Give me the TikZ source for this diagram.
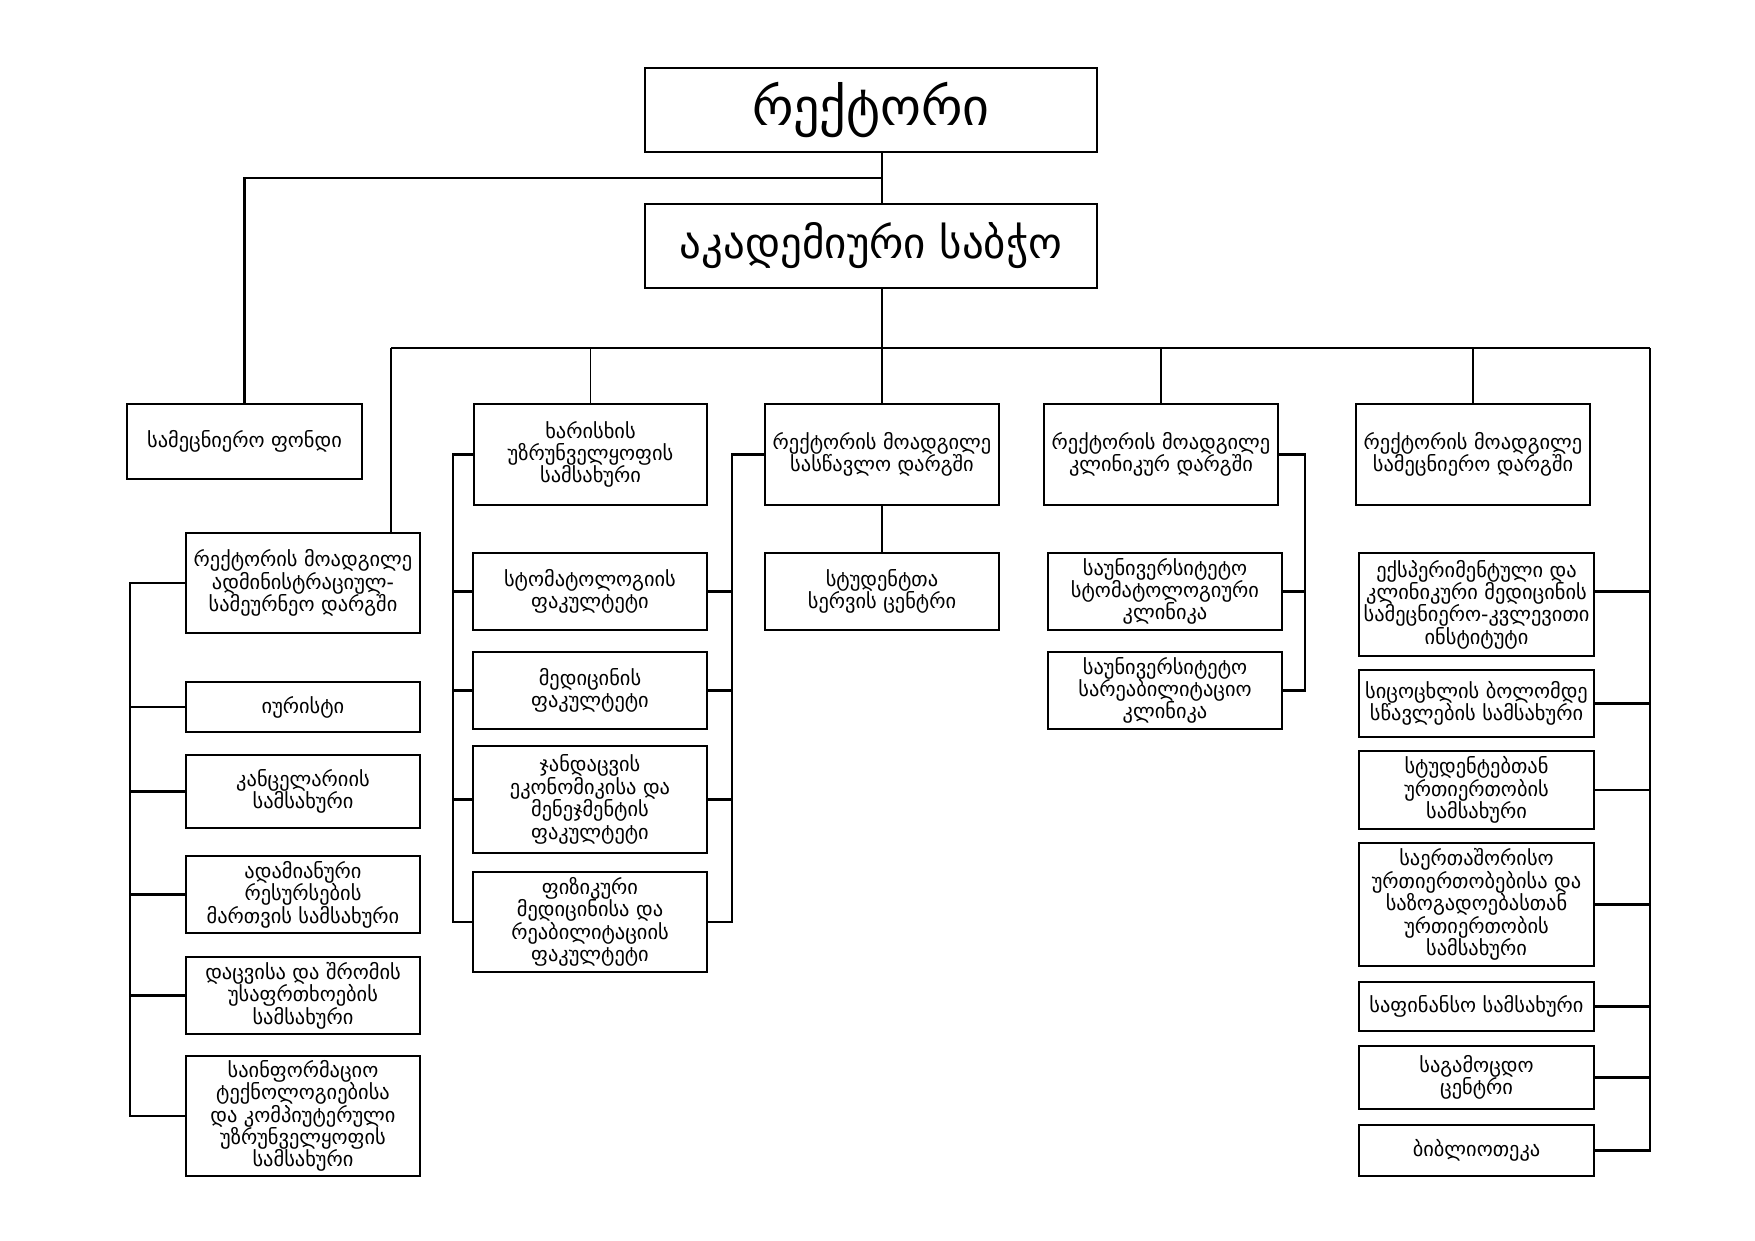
\documentclass[tikz,border=0pt]{standalone}
\usepackage{fontspec}
\setmainfont{DejaVu Sans}
\usetikzlibrary{calc}
\tikzset{
  box/.style={draw=black, line width=1.3pt, fill=white, inner sep=0pt, outer sep=0pt,
    align=center, font=\fontsize{10.2}{11.2}\selectfont},
  bigbox/.style={box, font=\fontsize{26}{30}\selectfont},
  midbox/.style={box, font=\fontsize{21.5}{26}\selectfont},
  thin/.style={draw=black, line width=0.8pt},
  conn/.style={draw=black, line width=1.1pt},
}
\newcommand\ob[7][box]{\node[#1, minimum width={(#5-#3)*0.5pt}, minimum height={(#6-#4)*0.5pt}] (#2) at ({(#3+#5)/2},{(#4+#6)/2}) {#7};}
\begin{document}
\begin{tikzpicture}[x=0.5pt,y=-0.5pt]
\useasboundingbox[fill=white] (0,0) rectangle (1755,1241);
% top
\ob[bigbox]{rector}{645}{68}{1097}{152}{რექტორი}
\ob[midbox]{council}{645}{204}{1097}{288}{აკადემიური საბჭო}
\ob{fond}{127}{404}{362}{479}{სამეცნიერო ფონდი}
% second row
\ob{quality}{474}{404}{707}{505}{ხარისხის\\უზრუნველყოფის\\სამსახური}
\ob{teach}{765}{404}{999}{505}{რექტორის მოადგილე\\სასწავლო დარგში}
\ob{clin}{1044}{404}{1278}{505}{რექტორის მოადგილე\\კლინიკურ დარგში}
\ob{sci}{1356}{404}{1590}{505}{რექტორის მოადგილე\\სამეცნიერო დარგში}
% admin column
\ob{admin}{186}{533}{420}{633}{რექტორის მოადგილე\\ადმინისტრაციულ-\\სამეურნეო დარგში}
\ob{jur}{186}{682}{420}{732}{იურისტი}
\ob{chanc}{186}{755}{420}{828}{კანცელარიის\\სამსახური}
\ob{hr}{186}{856}{420}{933}{ადამიანური\\რესურსების\\მართვის სამსახური}
\ob{safety}{186}{957}{420}{1034}{დაცვისა და შრომის\\უსაფრთხოების\\სამსახური}
\ob{it}{186}{1056}{420}{1176}{საინფორმაციო\\ტექნოლოგიებისა\\და კომპიუტერული\\უზრუნველყოფის\\სამსახური}
% faculties
\ob{stom}{473}{553}{707}{630}{სტომატოლოგიის\\ფაკულტეტი}
\ob{med}{473}{652}{707}{729}{მედიცინის\\ფაკულტეტი}
\ob{health}{473}{746}{707}{853}{ჯანდაცვის\\ეკონომიკისა და\\მენეჯმენტის\\ფაკულტეტი}
\ob{phys}{473}{872}{707}{972}{ფიზიკური\\მედიცინისა და\\რეაბილიტაციის\\ფაკულტეტი}
% teaching
\ob{ssc}{765}{553}{999}{630}{სტუდენტთა\\სერვის ცენტრი}
% clinics
\ob{uclinA}{1048}{553}{1282}{630}{საუნივერსიტეტო\\სტომატოლოგიური\\კლინიკა}
\ob{uclinB}{1048}{652}{1282}{729}{საუნივერსიტეტო\\სარეაბილიტაციო\\კლინიკა}
% right column
\ob{ext}{1359}{553}{1594}{656}{ექსპერიმენტული და\\კლინიკური მედიცინის\\სამეცნიერო-კვლევითი\\ინსტიტუტი}
\ob{life}{1359}{670}{1594}{737}{სიცოცხლის ბოლომდე\\სწავლების სამსახური}
\ob{stud}{1359}{751}{1594}{829}{სტუდენტებთან\\ურთიერთობის\\სამსახური}
\ob{intl}{1359}{843}{1594}{966}{საერთაშორისო\\ურთიერთობებისა და\\საზოგადოებასთან\\ურთიერთობის\\სამსახური}
\ob{fin}{1359}{982}{1594}{1031}{საფინანსო სამსახური}
\ob{exam}{1359}{1046}{1594}{1109}{საგამოცდო\\ცენტრი}
\ob{lib}{1359}{1125}{1594}{1176}{ბიბლიოთეკა}

% spine
\coordinate (sp) at (teach.north);
\coordinate (jn) at (sp |- 0,178);
\draw[thin] (rector.south -| sp) -- (council.north -| sp);
\draw[conn] (jn) -| (fond.north);
\coordinate (busL) at (391,348);
\coordinate (busR) at (1650,348);
\draw[thin] (council.south -| sp) -- (teach.north);
\draw[conn] (busL) -- (busR);
\draw[conn] (busL) -- (busL |- admin.north);
\draw[thin] (quality.north) -- (quality.north |- busL);
\draw[thin] (clin.north) -- (clin.north |- busL);
\draw[thin] (sci.north) -- (sci.north |- busL);
% admin bus
\coordinate (lb) at (130,0);
\draw[conn] (admin.west) -| (lb |- it.west) -- (it.west);
\foreach \n in {jur,chanc,hr,safety} \draw[conn] (\n.west) -- (\n.west -| lb);
% faculties buses
\coordinate (fl) at (453,0);
\coordinate (fr) at (732,0);
\draw[conn] (quality.west) -| (fl |- phys.west) -- (phys.west);
\foreach \n in {stom,med,health} \draw[conn] (\n.west) -- (\n.west -| fl);
\draw[conn] (teach.west) -| (fr |- phys.east) -- (phys.east);
\foreach \n in {stom,med,health} \draw[conn] (\n.east) -- (\n.east -| fr);
% teaching
\draw[thin] (teach.south) -- (ssc.north);
% clinics
\coordinate (cb) at (1305,0);
\draw[conn] (clin.east) -| (cb |- uclinB.east) -- (uclinB.east);
\draw[conn] (uclinA.east) -- (uclinA.east -| cb);
% right bus
\draw[conn] (busR) |- (lib.east);
\draw[conn] ($(ext.east)+(0,-13)$) -- ($(ext.east -| busR)+(0,-13)$);
\foreach \n in {life,stud,intl,fin,exam} \draw[conn] (\n.east) -- (\n.east -| busR);
\end{tikzpicture}
\end{document}
